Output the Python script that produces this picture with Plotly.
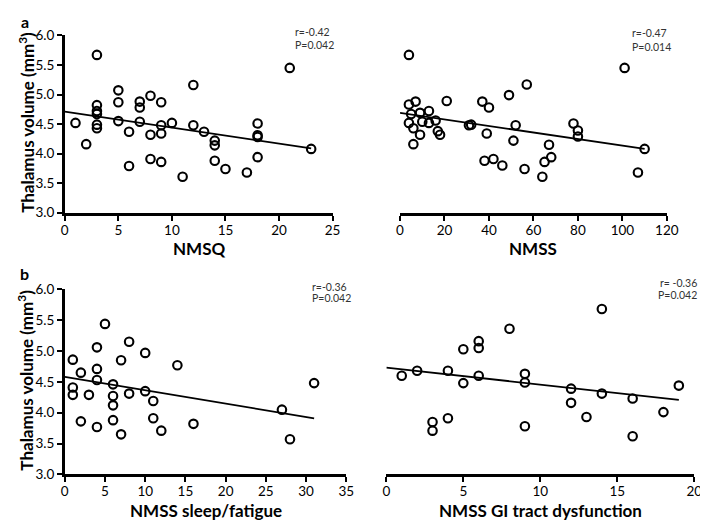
import plotly.graph_objects as go

W, H = 708, 520

# ---- data ----
nmsq_x = [1, 2, 3, 3, 3, 3, 3, 3, 5, 5, 5, 6, 6, 7, 7, 7, 8, 8, 8, 9, 9, 9, 9, 10, 11, 12, 12, 13, 14, 14, 14, 15, 17, 18, 18, 18, 18, 21, 23]
nmsq_y = [4.52, 4.16, 5.67, 4.82, 4.72, 4.67, 4.49, 4.43, 5.07, 4.87, 4.55, 4.37, 3.79, 4.88, 4.78, 4.54, 4.98, 4.32, 3.91, 4.87, 4.48, 4.34, 3.86, 4.52, 3.61, 5.16, 4.48, 4.37, 4.22, 4.14, 3.88, 3.74, 3.68, 4.51, 4.31, 4.28, 3.94, 5.45, 4.08]
nmsq_fit_x = [0, 23]
nmsq_fit_y = [4.71, 4.09]

nmss_x = [4, 4, 7, 5, 4, 6, 6, 9, 9, 10, 13, 13, 16, 17, 18, 21, 31, 32, 37, 40, 39, 38, 42, 46, 49, 51, 52, 56, 57, 64, 65, 67, 68, 78, 80, 80, 101, 107, 110]
nmss_y = [5.67, 4.83, 4.88, 4.67, 4.52, 4.43, 4.16, 4.69, 4.32, 4.54, 4.72, 4.52, 4.56, 4.38, 4.32, 4.89, 4.48, 4.49, 4.88, 4.78, 4.34, 3.88, 3.91, 3.80, 4.99, 4.22, 4.48, 3.74, 5.17, 3.61, 3.86, 4.15, 3.94, 4.51, 4.39, 4.29, 5.45, 3.68, 4.08]
nmss_fit_x = [0, 110]
nmss_fit_y = [4.69, 4.08]

sleep_x = [1, 1, 1, 2, 2, 3, 4, 4, 4, 4, 5, 6, 6, 6, 6, 7, 7, 8, 8, 10, 10, 11, 11, 12, 14, 16, 27, 28, 31]
sleep_y = [4.86, 4.41, 4.29, 4.65, 3.86, 4.29, 5.06, 4.71, 4.53, 3.77, 5.44, 4.46, 4.27, 4.12, 3.88, 4.85, 3.65, 5.15, 4.31, 4.97, 4.35, 4.19, 3.91, 3.71, 4.77, 3.82, 4.05, 3.57, 4.48]
sleep_fit_x = [0, 31]
sleep_fit_y = [4.58, 3.91]

gi_x = [1, 2, 3, 3, 4, 4, 5, 5, 6, 6, 6, 8, 9, 9, 9, 12, 12, 13, 14, 14, 16, 16, 18, 19]
gi_y = [4.60, 4.68, 3.85, 3.71, 4.68, 3.91, 5.03, 4.48, 5.16, 5.05, 4.60, 5.36, 4.63, 4.49, 3.78, 4.39, 4.16, 3.93, 5.68, 4.31, 4.23, 3.62, 4.01, 4.44]
gi_fit_x = [0, 19]
gi_fit_y = [4.73, 4.21]

y_ticks = [3, 3.5, 4, 4.5, 5, 5.5, 6]
y_tick_text = ["3.0", "3.5", "4.0", "4.5", "5.0", "5.5", "6.0"]

panels = [
    # (xs, ys, fitx, fity, xrange, xticks, title, xpx(l,r), ypx(top,bottom), showy, title_y)
    (nmsq_x, nmsq_y, nmsq_fit_x, nmsq_fit_y, [0, 25], [0, 5, 10, 15, 20, 25], "NMSQ", (54, 328), (20, 203), True, 240),
    (nmss_x, nmss_y, nmss_fit_x, nmss_fit_y, [0, 120], [0, 20, 40, 60, 80, 100, 120], "NMSS", (397, 670), (20, 203), False, 240),
    (sleep_x, sleep_y, sleep_fit_x, sleep_fit_y, [0, 35], [0, 5, 10, 15, 20, 25, 30, 35], "NMSS sleep/fatigue", (54, 342), (282, 473), True, 510),
    (gi_x, gi_y, gi_fit_x, gi_fit_y, [0, 20], [0, 5, 10, 15, 20], "NMSS GI tract dysfunction", (383, 698), (282, 473), False, 510),
]

FONT = "Lato"
fig = go.Figure()
annotations = []
layout = {}


def px_x(p):
    return p / W


def px_y(p):
    return 1 - p / H


for i, (xs, ys, fx, fy, xr, xt, title, (xl, xrgt), (yt, yb), showy, title_y) in enumerate(panels):
    n = "" if i == 0 else str(i + 1)
    xa, ya = "x" + n, "y" + n
    fig.add_trace(go.Scatter(x=fx, y=fy, mode="lines", xaxis=xa, yaxis=ya,
                             line=dict(color="black", width=1.8), showlegend=False, hoverinfo="skip"))
    fig.add_trace(go.Scatter(x=xs, y=ys, mode="markers", xaxis=xa, yaxis=ya,
                             marker=dict(symbol="circle-open", size=8.5, color="black",
                                         line=dict(width=2.1, color="black")),
                             showlegend=False, cliponaxis=False))
    layout["xaxis" + n] = dict(
        domain=[px_x(xl), px_x(xrgt)], range=xr, anchor=ya,
        tickmode="array", tickvals=xt, ticktext=[str(v) for v in xt],
        showline=True, linecolor="black", linewidth=2.5, ticks="outside", ticklen=5,
        tickwidth=2, tickcolor="black", showgrid=False, zeroline=False,
        ticklabelstandoff=-2,
        tickfont=dict(family=FONT, size=13.5, color="black"), fixedrange=True,
    )
    layout["yaxis" + n] = dict(
        domain=[px_y(yb), px_y(yt)], range=[3, 6], anchor=xa,
        tickmode="array", tickvals=y_ticks, ticktext=y_tick_text,
        showline=showy, linecolor="black", linewidth=2.5,
        ticks="outside" if showy else "", ticklen=5, tickwidth=2, tickcolor="black",
        showticklabels=showy, showgrid=False, zeroline=False,
        tickfont=dict(family=FONT, size=13.5, color="black"), fixedrange=True,
    )
    annotations.append(dict(text="<b>" + title + "</b>", x=px_x((xl + xrgt) / 2), y=px_y(title_y),
                            xref="paper", yref="paper", xanchor="center", yanchor="middle",
                            showarrow=False, font=dict(family=FONT, size=17, color="black")))
    if showy:
        annotations.append(dict(text="<b>Thalamus volume (mm<sup>3</sup>)</b>", textangle=-90,
                                x=px_x(14), y=px_y((yt + yb) / 2 - 2), xref="paper", yref="paper",
                                xanchor="center", yanchor="middle", showarrow=False,
                                font=dict(family=FONT, size=17, color="black")))

stats = [
    ("r=-0.42", "P=0.042", 287, 17, 30, "left"),
    ("r=-0.47", "P=0.014", 632, 18, 32, "left"),
    ("r=-0.36", "P=0.042", 305, 280, 291, "left"),
    ("r= -0.36", "P=0.042", 703, 275, 288, "right"),
]
for r_txt, p_txt, sx, ry, py, al in stats:
    for t, yy in ((r_txt, ry), (p_txt, py)):
        annotations.append(dict(text=t, x=px_x(sx), y=px_y(yy), xref="paper", yref="paper",
                                xanchor=al, yanchor="middle", showarrow=False,
                                font=dict(family=FONT, size=10.5, color="#333333")))

for lab, yy in (("a", 6), ("b", 266)):
    annotations.append(dict(text="<b>" + lab + "</b>", x=px_x(13), y=px_y(yy), xref="paper", yref="paper",
                            xanchor="center", yanchor="middle", showarrow=False,
                            font=dict(family=FONT, size=16, color="black")))

fig.update_layout(
    width=W, height=H, margin=dict(l=0, r=0, t=0, b=0),
    paper_bgcolor="white", plot_bgcolor="white",
    annotations=annotations, showlegend=False, **layout,
)

fig.write_html("out.html")
